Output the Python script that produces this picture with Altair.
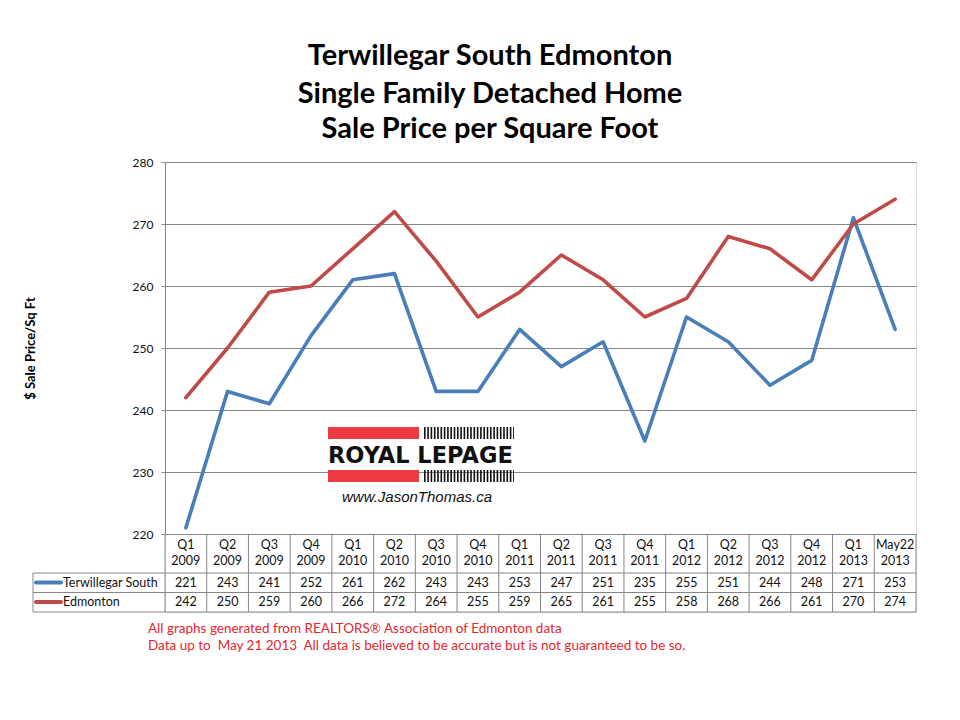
import altair as alt
import pandas as pd

# ---------------- data ----------------
quarters = ["Q1 2009", "Q2 2009", "Q3 2009", "Q4 2009", "Q1 2010", "Q2 2010",
            "Q3 2010", "Q4 2010", "Q1 2011", "Q2 2011", "Q3 2011", "Q4 2011",
            "Q1 2012", "Q2 2012", "Q3 2012", "Q4 2012", "Q1 2013", "May22 2013"]
terwillegar = [221, 243, 241, 252, 261, 262, 243, 243, 253, 247, 251, 235,
               255, 251, 244, 248, 271, 253]
edmonton = [242, 250, 259, 260, 266, 272, 264, 255, 259, 265, 261, 255,
            258, 268, 266, 261, 270, 274]
series_names = ["Terwillegar South", "Edmonton"]
series_colors = ["#4a7ebb", "#be4b48"]
y_ticks = [220, 230, 240, 250, 260, 270, 280]
title_lines = ["Terwillegar South Edmonton", "Single Family Detached Home",
               "Sale Price per Square Foot"]
footer_lines = ["All graphs generated from REALTORS\u00ae Association of Edmonton data",
                "Data up to \u00a0May 21 2013 \u00a0All data is believed to be accurate but is not guaranteed to be so."]
y_title = "$ Sale Price/Sq Ft"

rows = []
for s, vals in zip(series_names, [terwillegar, edmonton]):
    for i, (q, v) in enumerate(zip(quarters, vals)):
        rows.append({"cat": q, "series": s, "value": v, "idx": i})
df = pd.DataFrame(rows)
cats_df = pd.DataFrame({"cat": quarters})
one = pd.DataFrame({"a": [0]})

# ---------------- layout constants ----------------
W, H = 751, 450
PLOT_H = 372
ROW1_Y, ROW2_Y = 420.5, 440
GRID = "#868686"
FONT = "Lato"
LOGO_RED = "#ee3a43"
FOOT_RED = "#e3262e"

xs = alt.Scale(type="band", domain=quarters, paddingInner=0, paddingOuter=0)


def xenc(bp=0.5):
    return alt.X("cat:N", scale=xs, axis=None, bandPosition=bp)


lines = alt.Chart(df).mark_line(strokeWidth=3.6, strokeJoin="round", strokeCap="round").encode(
    x=xenc(),
    y=alt.Y("value:Q",
            scale=alt.Scale(domain=[220, 280], range=[PLOT_H, 0], nice=False, zero=False),
            axis=alt.Axis(values=y_ticks, title=y_title, grid=True, gridColor=GRID,
                          gridWidth=1, domainColor=GRID, tickColor=GRID, tickSize=4,
                          labelPadding=8, labelFontSize=12, labelFont=FONT,
                          labelColor="#111", titleFont=FONT, titleFontSize=13,
                          titleFontWeight="bold", titleColor="#000", titleAngle=270,
                          titleX=-135, titleY=PLOT_H / 2, titleAlign="center",
                          titleBaseline="middle")),
    color=alt.Color("series:N", scale=alt.Scale(domain=series_names, range=series_colors),
                    legend=None),
    order="idx:Q",
)

layers = [lines]

# ---- data table ----
layers.append(alt.Chart(cats_df).mark_rule(color=GRID, strokeWidth=1).encode(
    x=xenc(0), y=alt.value(PLOT_H), y2=alt.value(H)))
layers.append(alt.Chart(one).mark_rule(color=GRID, strokeWidth=1).encode(
    x=alt.value(W), y=alt.value(PLOT_H), y2=alt.value(H)))
layers.append(alt.Chart(one).mark_rule(color=GRID, strokeWidth=1).encode(
    x=alt.value(-132), y=alt.value(411), y2=alt.value(H)))
for yy in [411, 430.5, H]:
    layers.append(alt.Chart(one).mark_rule(color=GRID, strokeWidth=1).encode(
        x=alt.value(-132), x2=alt.value(W), y=alt.value(yy)))

layers.append(alt.Chart(cats_df).mark_text(
    lineBreak=" ", lineHeight=16, fontSize=12.5, font=FONT, baseline="middle",
    color="#111").encode(x=xenc(), y=alt.value(383), text="cat:N"))

for s, col, yy in zip(series_names, series_colors, [ROW1_Y, ROW2_Y]):
    layers.append(alt.Chart(df).transform_filter(alt.datum.series == s).mark_text(
        fontSize=12.5, font=FONT, baseline="middle", color="#111").encode(
        x=xenc(), y=alt.value(yy), text="value:Q"))
    layers.append(alt.Chart(one).mark_rule(color=col, strokeWidth=4, strokeCap="round").encode(
        x=alt.value(-129), x2=alt.value(-104), y=alt.value(yy)))
    layers.append(alt.Chart(pd.DataFrame({"t": [s]})).mark_text(
        fontSize=12.5, font=FONT, baseline="middle", align="left", color="#111").encode(
        x=alt.value(-102), y=alt.value(yy), text="t:N"))

# ---- logo ----
for (y0, y1) in [(265, 277), (308, 320)]:
    layers.append(alt.Chart(one).mark_rect(color=LOGO_RED).encode(
        x=alt.value(163), x2=alt.value(254), y=alt.value(y0), y2=alt.value(y1)))
    layers.append(alt.Chart(one).mark_rule(color="#111", strokeWidth=y1 - y0,
                                           strokeDash=[1.6, 1.7]).encode(
        x=alt.value(259), x2=alt.value(349), y=alt.value((y0 + y1) / 2)))
layers.append(alt.Chart(pd.DataFrame({"t": ["ROYAL LEPAGE"]})).mark_text(
    font="DejaVu Sans", fontWeight="bold", fontSize=22.5, align="left",
    baseline="alphabetic", color="#111").encode(
    x=alt.value(163), y=alt.value(301), text="t:N"))
layers.append(alt.Chart(pd.DataFrame({"t": ["www.JasonThomas.ca"]})).mark_text(
    font="Liberation Sans", fontStyle="italic", fontSize=15, align="left",
    baseline="alphabetic", color="#111").encode(
    x=alt.value(177), y=alt.value(340), text="t:N"))

# ---- title ----
for t, yy in zip(title_lines, [-97, -59, -24]):
    layers.append(alt.Chart(pd.DataFrame({"t": [t]})).mark_text(
        font=FONT, fontWeight="bold", fontSize=29, align="center",
        baseline="alphabetic", color="#000").encode(
        x=alt.value(325), y=alt.value(yy), text="t:N"))

# ---- footer ----
for t, yy in zip(footer_lines, [467, 484]):
    layers.append(alt.Chart(pd.DataFrame({"t": [t]})).mark_text(
        font=FONT, fontSize=13.5, align="left", baseline="middle",
        color=FOOT_RED).encode(x=alt.value(-17), y=alt.value(yy), text="t:N"))

chart = alt.layer(*layers).properties(
    width=W, height=H,
    autosize=alt.AutoSizeParams(type="none"),
    padding={"left": 157, "top": 154, "right": 36, "bottom": 100},
).configure_view(stroke=None).configure(background="white")

chart.save("out.html", embed_options={"renderer": "svg", "actions": False})
